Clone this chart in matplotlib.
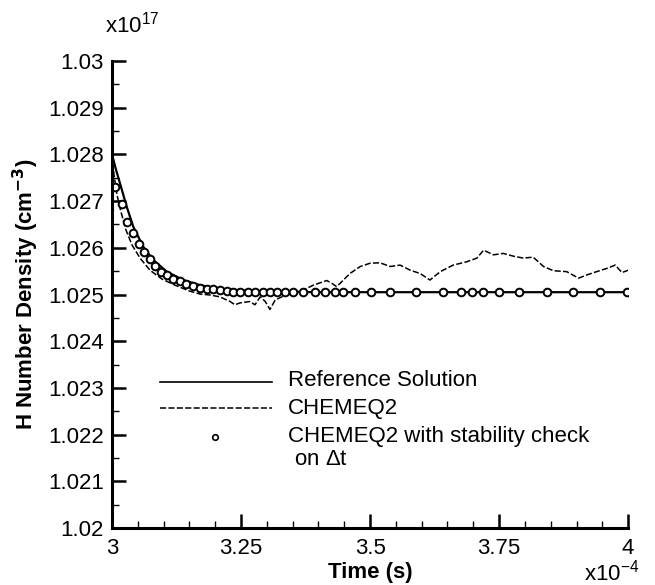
import matplotlib
matplotlib.use("Agg")
import matplotlib.pyplot as plt
from matplotlib.ticker import MultipleLocator, FuncFormatter

plt.rcParams['font.family'] = ['Liberation Sans', 'DejaVu Sans']
plt.rcParams['mathtext.fontset'] = 'custom'
plt.rcParams['mathtext.rm'] = 'Liberation Sans'

# --- data (time in 1e-4 s, density in 1e17 cm^-3) ---
ref_t = [3.000, 3.0078, 3.0155, 3.0285, 3.0413, 3.0607, 3.0800, 3.1060,
         3.1382, 3.1705, 3.2029, 3.2481, 3.3062, 3.4031, 4.000]
ref_y = [1.02800, 1.02767, 1.02738, 1.02688, 1.02645, 1.02602, 1.02574, 1.02549,
         1.02531, 1.02520, 1.02513, 1.02509, 1.02506, 1.02505, 1.02505]

cq2_t = [3.000, 3.0039, 3.0097, 3.0174, 3.0271, 3.0388, 3.0543, 3.0736,
         3.0969, 3.1221, 3.1512, 3.1705,
         3.190, 3.209, 3.229, 3.238, 3.248, 3.267, 3.277, 3.287, 3.297, 3.306,
         3.316, 3.329, 3.342, 3.358, 3.377, 3.390, 3.403, 3.416, 3.426, 3.435,
         3.442, 3.461, 3.481, 3.500, 3.519, 3.539, 3.558, 3.578, 3.597, 3.616,
         3.636, 3.661, 3.687, 3.707, 3.720, 3.739, 3.758, 3.778, 3.797, 3.816,
         3.836, 3.855, 3.881, 3.904, 3.920, 3.939, 3.959, 3.975, 3.988, 4.000]
cq2_y = [1.02800, 1.02756, 1.02713, 1.02677, 1.02638, 1.02606, 1.02578, 1.02552,
         1.02533, 1.02520, 1.02507, 1.02501,
         1.02499, 1.02495, 1.02485, 1.02478, 1.02482, 1.02485, 1.02478, 1.02495, 1.02485, 1.02468,
         1.02488, 1.02495, 1.02503, 1.02506, 1.02513, 1.02520, 1.02525, 1.02530, 1.02524, 1.02517,
         1.02524, 1.02545, 1.02560, 1.02567, 1.02568, 1.02560, 1.02563, 1.02552, 1.02545, 1.02531,
         1.02549, 1.02563, 1.02570, 1.02578, 1.02595, 1.02585, 1.02588, 1.02582, 1.02578, 1.02580,
         1.02560, 1.02551, 1.02549, 1.02535, 1.02542, 1.02549, 1.02556, 1.02563, 1.02547, 1.02552]

stab_t = [3.0058, 3.0188, 3.0300, 3.0413, 3.0514, 3.0620, 3.0727, 3.0833, 3.0950,
          3.1066, 3.1182, 3.1308, 3.1434, 3.1570, 3.1705, 3.1831, 3.1963, 3.2093,
          3.2223, 3.2351, 3.2481, 3.2641, 3.2771, 3.2932, 3.3062, 3.3192, 3.3353,
          3.3514, 3.3707, 3.3934, 3.4128, 3.4322, 3.4483, 3.4709, 3.5014, 3.5388,
          3.5891, 3.6409, 3.6758, 3.6971, 3.7196, 3.7506, 3.7893, 3.8424, 3.8940,
          3.9457, 3.9975]
stab_y = [1.02730, 1.02694, 1.02656, 1.02631, 1.02608, 1.02591, 1.02575, 1.02561, 1.02549,
          1.02541, 1.02534, 1.02528, 1.02522, 1.02518, 1.02515, 1.02512, 1.02511, 1.02509,
          1.02507, 1.02506, 1.02505, 1.02505, 1.02505, 1.02505, 1.02505, 1.02505, 1.02505,
          1.02505, 1.02505, 1.02505, 1.02505, 1.02505, 1.02505, 1.02505, 1.02505, 1.02505,
          1.02505, 1.02505, 1.02505, 1.02505, 1.02505, 1.02505, 1.02505, 1.02505, 1.02505,
          1.02505, 1.02505]

legend_labels = ["Reference Solution", "CHEMEQ2", "CHEMEQ2 with stability check"]

fig = plt.figure(figsize=(6.55, 5.85), dpi=100)
ax = fig.add_axes([0.171, 0.0974, 0.788, 0.7983])

ax.plot(ref_t, ref_y, color='black', lw=1.6)
ax.plot(cq2_t, cq2_y, color='black', lw=1.1, linestyle=(0, (4, 1.5)))
ax.plot(stab_t, stab_y, linestyle='none', marker='o', ms=5.5, mfc='white',
        mec='black', mew=1.4)

ax.set_xlim(3, 4)
ax.set_ylim(1.02, 1.03)

for side in ['top', 'right']:
    ax.spines[side].set_visible(False)
for side in ['left', 'bottom']:
    ax.spines[side].set_linewidth(2.2)

ax.xaxis.set_major_locator(MultipleLocator(0.25))
ax.xaxis.set_minor_locator(MultipleLocator(0.05))
ax.yaxis.set_major_locator(MultipleLocator(0.001))
ax.yaxis.set_minor_locator(MultipleLocator(0.0005))
fmt = FuncFormatter(lambda v, p: '%g' % round(v, 4))
ax.xaxis.set_major_formatter(fmt)
ax.yaxis.set_major_formatter(fmt)
ax.tick_params(which='major', direction='in', length=10, width=1.8, labelsize=16)
ax.tick_params(which='minor', direction='in', length=5, width=1.0)
ax.tick_params(axis='y', which='major', pad=6)
ax.tick_params(axis='x', which='major', pad=7)

ax.set_xlabel("Time (s)", fontsize=16, fontweight='bold', labelpad=2)
ax.set_ylabel("H Number Density (cm$^{\\mathbf{-3}}$)", fontsize=16,
              fontweight='bold', labelpad=5)

fig.text(0.16, 0.958, "x10$^{17}$", fontsize=16, ha='left', va='center')
fig.text(0.892, 0.022, "x10$^{-4}$", fontsize=16, ha='left', va='center')

# legend drawn by hand
ax.plot([0.093, 0.310], [0.313, 0.313], transform=ax.transAxes, color='black', lw=1.2)
ax.plot([0.093, 0.310], [0.256, 0.256], transform=ax.transAxes, color='black',
        lw=1.1, linestyle=(0, (4, 1.5)))
ax.plot([0.2], [0.195], transform=ax.transAxes, marker='o', ms=4, mfc='white',
        mec='black', mew=1.2)
ax.text(0.341, 0.315, legend_labels[0], transform=ax.transAxes, fontsize=16, va='center')
ax.text(0.341, 0.257, legend_labels[1], transform=ax.transAxes, fontsize=16, va='center')
ax.text(0.341, 0.197, legend_labels[2], transform=ax.transAxes, fontsize=16, va='center')
ax.text(0.341, 0.146, " on $\\Delta$t", transform=ax.transAxes, fontsize=16, va='center')

fig.savefig("out.png", dpi=100)
